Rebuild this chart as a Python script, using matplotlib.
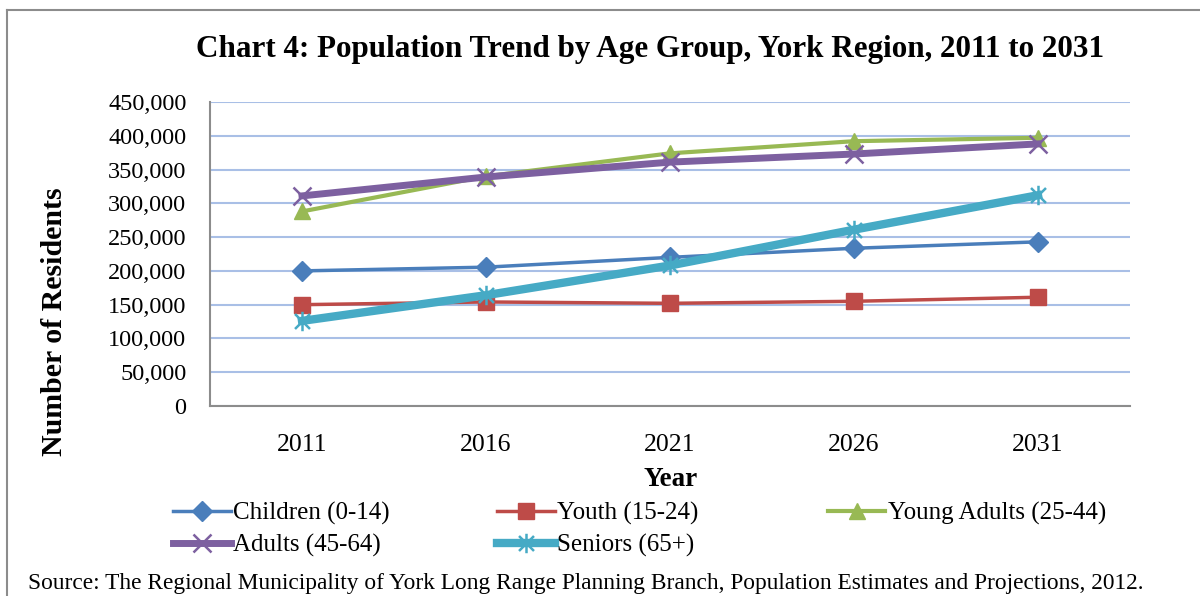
import numpy as np
import matplotlib.pyplot as plt
from matplotlib.path import Path
from matplotlib.lines import Line2D

plt.rcParams['font.family'] = ['Liberation Serif', 'DejaVu Serif']

years = ['2011', '2016', '2021', '2026', '2031']
children = [200000, 205500, 220000, 233500, 243000]
youth = [150000, 154000, 152000, 155000, 161000]
young_adults = [288000, 340000, 374000, 392000, 397000]
adults = [311000, 339000, 361000, 373000, 388000]
seniors = [126000, 164000, 208000, 261000, 312000]

# asterisk marker like the spreadsheet one (x with a vertical bar)
star = Path([(-1, -1), (1, 1), (-1, 1), (1, -1), (0, -1.3), (0, 1.3)],
            [Path.MOVETO, Path.LINETO, Path.MOVETO, Path.LINETO, Path.MOVETO, Path.LINETO])

fig = plt.figure(figsize=(12, 5.96), dpi=100)
ax = fig.add_axes([210/1200, 1 - 406/596, 920/1200, 304/596])

x = np.arange(len(years))
ax.plot(x, children, color='#4a7ebb', lw=2.5, marker='D', ms=10, label='Children (0-14)')
ax.plot(x, youth, color='#be4b48', lw=2.5, marker='s', ms=11, label='Youth (15-24)')
ax.plot(x, young_adults, color='#98b954', lw=3, marker='^', ms=11, label='Young Adults (25-44)')
ax.plot(x, adults, color='#7d60a0', lw=5, marker='x', ms=13, mew=1.8, label='Adults (45-64)')
ax.plot(x, seniors, color='#46aac5', lw=6, marker=star, ms=14, mew=1.8, label='Seniors (65+)')

ax.set_xlim(-0.5, 4.5)
ax.set_ylim(0, 450000)
ax.set_yticks(np.arange(0, 450001, 50000))
ax.set_yticklabels(['0'] + ['{:,}'.format(v) for v in range(50000, 450001, 50000)])
ax.set_xticks(x)
ax.set_xticklabels(years)
ax.tick_params(axis='both', length=0, labelsize=17.5)
ax.tick_params(axis='x', labelsize=18.5)
ax.tick_params(axis='y', pad=17)
ax.tick_params(axis='x', pad=20)
ax.grid(axis='y', color='#a9bfe6', lw=1.5)
ax.set_axisbelow(True)
for s in ['top', 'right']:
    ax.spines[s].set_visible(False)
ax.spines['left'].set_color('#8c8c8c')
ax.spines['bottom'].set_color('#8c8c8c')
ax.spines['left'].set_linewidth(1.5)
ax.spines['bottom'].set_linewidth(1.5)

fig.text(650/1200, 1 - 50/596, 'Chart 4: Population Trend by Age Group, York Region, 2011 to 2031',
         ha='center', va='center', fontsize=22.4, fontweight='bold')
fig.text(55/1200, 1 - 322/596, 'Number of Residents', rotation=90, ha='center', va='center',
         fontsize=21.5, fontweight='bold')
fig.text(671/1200, 1 - 480/596, 'Year', ha='center', va='center', fontsize=19.5, fontweight='bold')

# one legend per column so each column sits where the original has it
handles, labels = ax.get_legend_handles_labels()
columns = [[0, 3], [1, 4], [2]]
col_x = [173, 497, 828]
for idx, cx in zip(columns, col_x):
    leg = fig.legend([handles[i] for i in idx], [labels[i] for i in idx],
                     loc='upper left', bbox_to_anchor=(cx/1200, 1 - 502/596), frameon=False,
                     fontsize=18, handlelength=2.3, handletextpad=0.1,
                     labelspacing=0.35, borderpad=0, borderaxespad=0)

fig.text(28/1200, 1 - 584/596,
         'Source: The Regional Municipality of York Long Range Planning Branch, Population Estimates and Projections, 2012.',
         ha='left', va='center', fontsize=16.8)

# outer frame (top and left edges visible)
fig.add_artist(Line2D([7/1200, 7/1200], [0, 1 - 10/596], color='#8c8c8c', lw=1.5))
fig.add_artist(Line2D([7/1200, 1], [1 - 10/596, 1 - 10/596], color='#8c8c8c', lw=1.5))

fig.savefig('out.png', dpi=100)
